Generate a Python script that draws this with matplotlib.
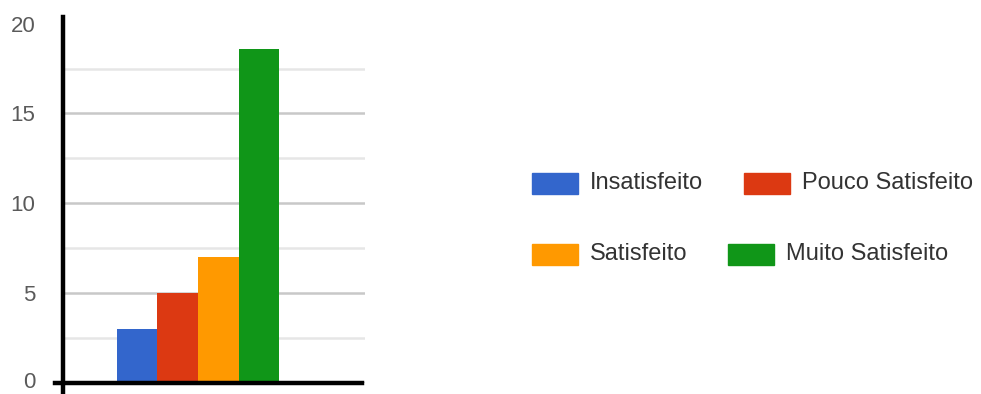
import matplotlib.pyplot as plt
from matplotlib.patches import Rectangle
from matplotlib.ticker import MultipleLocator
from matplotlib.transforms import ScaledTranslation

# Satisfaction survey counts (one group, four series)
labels = ['Insatisfeito', 'Pouco Satisfeito', 'Satisfeito', 'Muito Satisfeito']
values = [3, 5, 7, 18.6]
colors = ['#3366cc', '#dc3912', '#ff9900', '#109618']
y_ticks = [0, 5, 10, 15, 20]

plt.rcParams['font.family'] = ['Liberation Sans', 'DejaVu Sans']

fig = plt.figure(figsize=(9.81, 3.94), dpi=100)
ax = fig.add_axes([63 / 981, 1 - 383 / 394, 302 / 981, (383 - 17.3) / 394])

offsets = [-1.5, -0.5, 0.5, 1.5]
for off, val, col, lab in zip(offsets, values, colors, labels):
    ax.bar(off, val, width=1.0, color=col, label=lab, zorder=3)

ax.set_xlim(-3.33, 4.12)
ax.set_ylim(0, 20.35)
ax.set_yticks(y_ticks)
ax.yaxis.set_minor_locator(MultipleLocator(2.5))
ax.set_xticks([])
ax.tick_params(axis='y', which='both', length=0, pad=20, labelsize=16, labelcolor='#5a5a5a')

# keep the "0" label inside the canvas
zero_lbl = ax.get_yticklabels()[0]
zero_lbl.set_transform(zero_lbl.get_transform() + ScaledTranslation(0, 2 / 72, fig.dpi_scale_trans))

ax.grid(axis='y', which='major', color='#c8c8c8', linewidth=1.8, zorder=0)
ax.grid(axis='y', which='minor', color='#e6e6e6', linewidth=1.8, zorder=0)
ax.get_ygridlines()[-1].set_visible(False)

for s in ax.spines.values():
    s.set_visible(False)
# thick axis lines, crossing slightly at the origin
ax.plot([0, 0], [-0.025, 1.0], color='black', lw=3.2, transform=ax.transAxes, clip_on=False, zorder=5)
ax.plot([-0.027, 0.99], [0, 0], color='black', lw=3.2, transform=ax.transAxes, clip_on=False, zorder=5)

# legend, drawn by hand to match the flowed two-row layout
sw_w, sw_h = 46, 21
entries = [(532, 183), (744, 183), (532, 254), (728, 254)]
for (x, yc), col, lab in zip(entries, colors, labels):
    fig.patches.append(Rectangle((x / 981, 1 - (yc + sw_h / 2) / 394), sw_w / 981, sw_h / 394,
                                 transform=fig.transFigure, color=col))
    fig.text((x + sw_w + 12) / 981, 1 - yc / 394, lab, fontsize=17, color='#333333',
             va='center', ha='left')

fig.savefig('out.png', dpi=100)
